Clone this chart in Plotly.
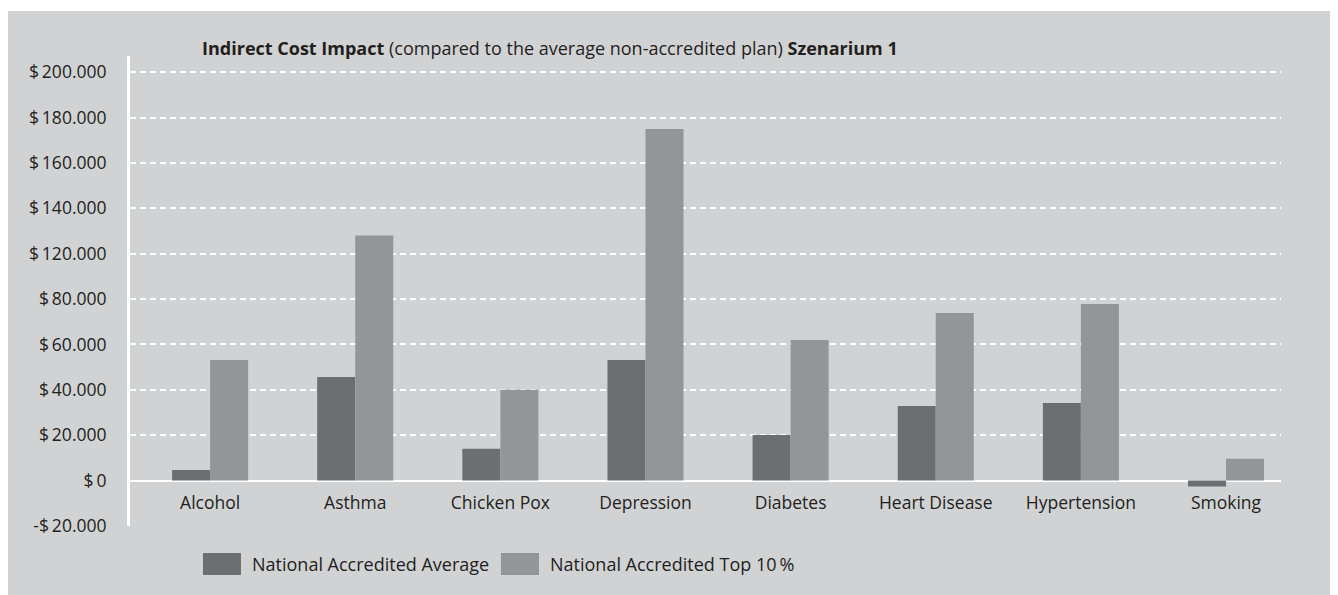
import plotly.graph_objects as go

categories = ["Alcohol", "Asthma", "Chicken Pox", "Depression", "Diabetes",
              "Heart Disease", "Hypertension", "Smoking"]
avg_values = [4700, 45700, 14000, 53200, 20100, 32900, 34200, -2600]
top10_values = [53200, 108000, 40000, 154900, 62000, 73900, 77800, 9600]
series_names = ["National Accredited Average", "National Accredited Top 10\u2009%"]
ytick_values = [-20000, 0, 20000, 40000, 60000, 80000, 100000, 120000, 140000, 160000, 180000]
ytick_labels = ["-$\u200920.000", "$\u20090", "$\u200920.000", "$\u200940.000", "$\u200960.000",
                "$\u200980.000", "$\u2009120.000", "$\u2009140.000", "$\u2009160.000",
                "$\u2009180.000", "$\u2009200.000"]

DARK = "#6d6e71"
LIGHT = "#939598"
PANEL = "#d1d2d4"
TEXT = "#231f20"
FONT = "Open Sans"

YMIN, YMAX = -20000, 187100

fig = go.Figure()
fig.add_trace(go.Bar(x=categories, y=avg_values, name=series_names[0],
                     marker=dict(color=DARK, line=dict(width=0))))
fig.add_trace(go.Bar(x=categories, y=top10_values, name=series_names[1],
                     marker=dict(color=LIGHT, line=dict(width=0))))

# background panel
fig.add_shape(type="rect", xref="paper", yref="paper", x0=-0.2, x1=1.1,
              y0=-0.3, y1=1.0957, fillcolor=PANEL, line=dict(width=0), layer="below")

# manual legend (large swatches like the original)
leg = [(0.0634, 0.0964, 0.1043, DARK, series_names[0]),
       (0.3223, 0.3553, 0.3632, LIGHT, series_names[1])]
for x0, x1, xt, col, name in leg:
    fig.add_shape(type="rect", xref="paper", yref="paper", x0=x0, x1=x1,
                  y0=-0.1043, y1=-0.0574, fillcolor=col, line=dict(width=0))
    fig.add_annotation(xref="paper", yref="paper", x=xt, y=-0.0809, text=name,
                       showarrow=False, xanchor="left", yanchor="middle",
                       font=dict(family=FONT, size=18, color=TEXT))

zero_pos = (0 - YMIN) / (YMAX - YMIN)

fig.update_layout(
    width=1338, height=595,
    margin=dict(l=122, r=65, t=48, b=77),
    paper_bgcolor="white",
    plot_bgcolor=PANEL,
    barmode="group",
    bargap=0.476,
    bargroupgap=0,
    showlegend=False,
    font=dict(family=FONT, size=17.5, color=TEXT),
    title=dict(
        text="<b>Indirect Cost Impact</b> (compared to the average non-accredited plan) <b>Szenarium 1</b>",
        xref="paper", x=0.0626, xanchor="left",
        yref="container", y=1 - 41 / 595, yanchor="middle",
        font=dict(family=FONT, size=18, color=TEXT),
    ),
    xaxis=dict(
        range=[-0.552, 7.379],
        anchor="free", position=zero_pos,
        showgrid=False, showline=False, zeroline=False,
        ticks="", ticklabelstandoff=10,
        tickfont=dict(family=FONT, size=17.5, color=TEXT),
    ),
    yaxis=dict(
        range=[YMIN, YMAX],
        tickvals=ytick_values, ticktext=ytick_labels,
        showgrid=True, gridcolor="white", gridwidth=2, griddash="6px,4px",
        zeroline=True, zerolinecolor="white", zerolinewidth=2,
        showline=True, linecolor="white", linewidth=3,
        ticks="", ticklabelstandoff=17,
        tickfont=dict(family=FONT, size=17.5, color=TEXT),
    ),
)

fig.write_html("out.html")
